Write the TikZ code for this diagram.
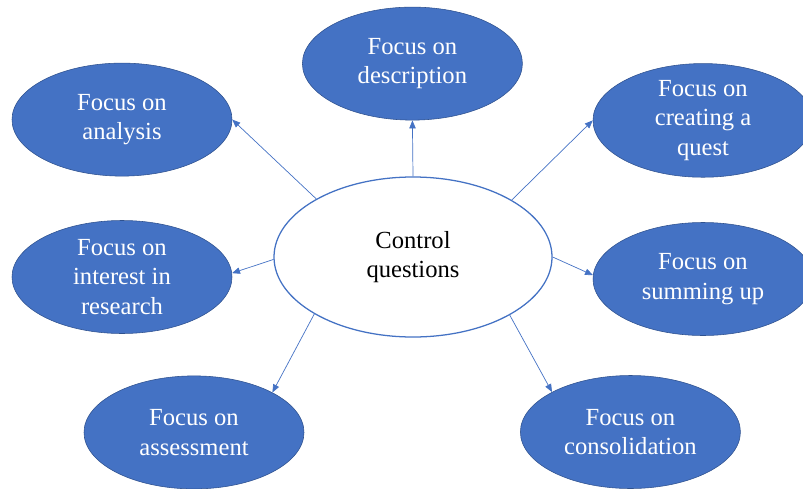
\documentclass[tikz,border=0pt]{standalone}
\usepackage{fontspec}
\setmainfont{Liberation Serif}
\definecolor{focusblue}{RGB}{68,114,196}
\definecolor{focusedge}{RGB}{47,82,143}
\usetikzlibrary{arrows.meta,shapes.geometric}

\begin{document}
\begin{tikzpicture}[every node/.style={font=\fontsize{17.5}{21}\selectfont,align=center},
  focus/.style={ellipse,draw=focusedge,line width=.4pt,fill=focusblue,text=white,minimum width=5.5cm,minimum height=2.825cm,inner sep=0pt},
  link/.style={-{Triangle[length=2mm,width=1.6mm]},focusblue,line width=.5pt}]
\useasboundingbox (0,0) rectangle (20.075,12.2);
% centre
\node[ellipse,draw=focusblue,line width=.9pt,fill=white,minimum width=6.95cm,minimum height=4cm] (cq) at (10.325,5.775) {Control\\questions};
% the seven foci
\node[focus] (desc) at (10.31,10.61) {Focus on\\description};
\node[focus] (ana) at (3.05,9.21) {Focus on\\analysis};
\node[focus] (quest) at (17.575,9.19) {Focus on\\creating a\\quest};
\node[focus] (res) at (3.05,5.275) {Focus on\\interest in\\research};
\node[focus] (sum) at (17.575,5.225) {Focus on\\summing up};
\node[focus] (ass) at (4.85,1.39) {Focus on\\assessment};
\node[focus] (cons) at (15.76,1.4) {Focus on\\consolidation};
\draw[link] (cq.north) -- (desc.south);
\draw[link] (cq.149) -- (ana.east);
\draw[link] (cq.30) -- (quest.west);
\draw[link] (cq.181) -- (res.2);
\draw[link] (cq.east) -- (sum.178);
\draw[link] (cq.210) -- (ass.27);
\draw[link] (cq.329) -- (cons.153);
\end{tikzpicture}
\end{document}
